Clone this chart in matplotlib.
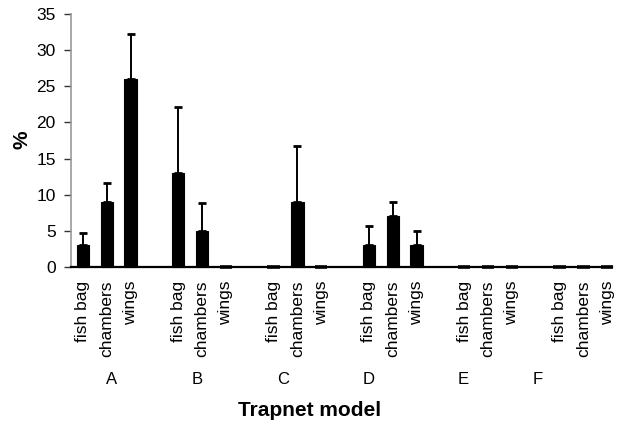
import matplotlib.pyplot as plt
import numpy as np

plt.rcParams['font.family'] = ['Liberation Sans', 'DejaVu Sans']

models = ['A', 'B', 'C', 'D', 'E', 'F']
parts = ['fish bag', 'chambers', 'wings']
# mean % per model and part (fish bag, chambers, wings)
means = [[3, 9, 26],
         [13, 5, 0],
         [0, 9, 0],
         [3, 7, 3],
         [0, 0, 0],
         [0, 0, 0]]
# upper error (SD)
errs = [[1.7, 2.6, 6.3],
        [9.2, 3.8, 0],
        [0, 7.8, 0],
        [2.7, 2.0, 2.0],
        [0, 0, 0],
        [0, 0, 0]]
# x offset of the model letters (in slots from the group's first bar)
letter_off = [1.18, 0.79, 0.4, -0.03, -0.03, -0.92]

X, Y, E, L = [], [], [], []
for g in range(len(models)):
	for k in range(len(parts)):
		X.append(g * 4 + k)
		Y.append(means[g][k])
		E.append(errs[g][k])
		L.append(parts[k])
X = np.array(X)
Y = np.array(Y)
E = np.array(E)

fig = plt.figure(figsize=(6.22, 4.25), dpi=100)
ax = fig.add_axes([71 / 622, 158 / 425, 541 / 622, 253 / 425])

# zero values still show as a short dash on the axis
lw = [2.6 if y == 0 else 0.8 for y in Y]
ax.bar(X, Y, width=0.52, color='black', edgecolor='black', linewidth=lw,
	   clip_on=False, zorder=3)
ax.errorbar(X, Y, yerr=[np.zeros_like(E), E], fmt='none', ecolor='black',
			elinewidth=1.4, capsize=3, capthick=2, zorder=3)

ax.set_xlim(-0.5, 22.2)
ax.set_ylim(0, 35)
ax.set_yticks(range(0, 36, 5))
ax.set_xticks(X)
ax.set_xticklabels(L, rotation=90, fontsize=12.5)
ax.tick_params(axis='x', length=0, pad=10)
ax.tick_params(axis='y', length=5, width=1, labelsize=12.5, pad=6, color='#333333')

ax.spines['top'].set_visible(False)
ax.spines['right'].set_visible(False)
ax.spines['left'].set_color('#999999')
ax.spines['left'].set_linewidth(1.2)
ax.spines['bottom'].set_linewidth(1.6)

for g in range(len(models)):
	ax.text(g * 4 + letter_off[g], -15.6, models[g], ha='center', va='center',
			fontsize=12)

fig.text(22 / 622, 1 - 140 / 425, '%', rotation=90, ha='center', va='center',
		 fontsize=15, fontweight='bold')
fig.text(310 / 622, 1 - 410 / 425, 'Trapnet model', ha='center', va='center',
		 fontsize=15, fontweight='bold')

fig.savefig('out.png', dpi=100)
